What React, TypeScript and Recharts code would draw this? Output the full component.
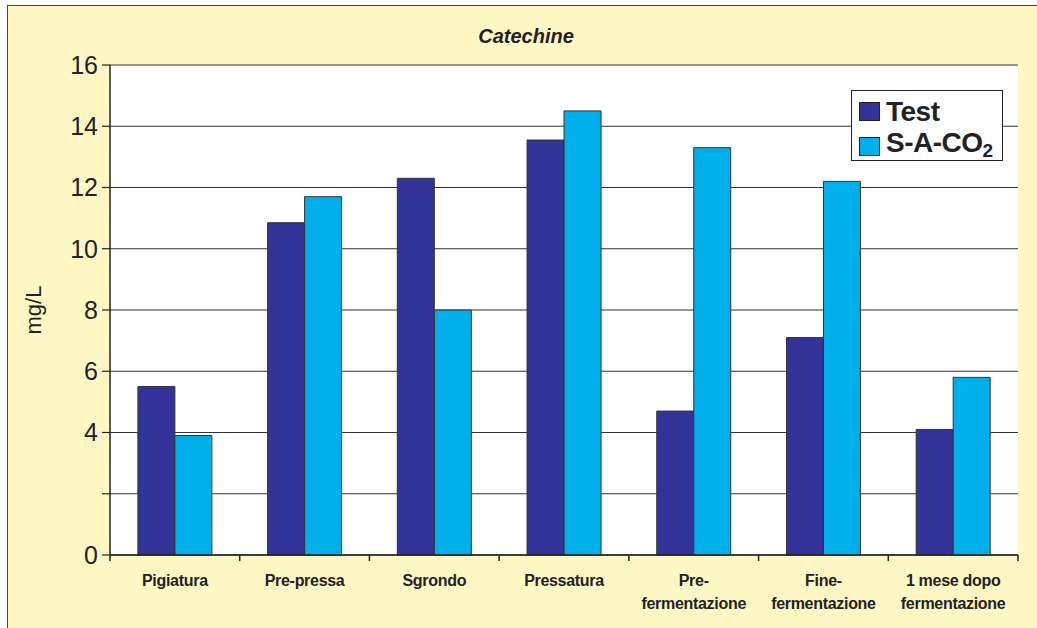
import { BarChart, Bar, XAxis, YAxis, CartesianGrid, Legend } from 'recharts';

const categories = [
  'Pigiatura',
  'Pre-pressa',
  'Sgrondo',
  'Pressatura',
  'Pre-\nfermentazione',
  'Fine-\nfermentazione',
  '1 mese dopo\nfermentazione',
];
const testValues = [5.5, 10.85, 12.3, 13.55, 4.7, 7.1, 4.1];
const co2Values = [3.9, 11.7, 8.0, 14.5, 13.3, 12.2, 5.8];
const seriesKeys = ['test', 'co2'];
const yTicks = [0, 2, 4, 6, 8, 10, 12, 14, 16];

const data = categories.map((name, i) => ({ name, test: testValues[i], co2: co2Values[i] }));

const FONT = '"Liberation Sans", Arial, Helvetica, sans-serif';
const CHART_W = 1030;
const CHART_H = 640;
const MARGIN = { top: 59, right: 20, left: 0, bottom: 31 };
const Y_AXIS_W = 102;
const BAND = (CHART_W - MARGIN.right - MARGIN.left - Y_AXIS_W) / categories.length;

const XTick = (props: any) => {
  const { x, y, payload, index } = props;
  const lines = String(payload.value).split('\n');
  return (
    <g>
      <line x1={x - BAND / 2} y1={y} x2={x - BAND / 2} y2={y + 6} stroke="#222" strokeWidth={1.5} />
      {index === categories.length - 1 && (
        <line x1={x + BAND / 2} y1={y} x2={x + BAND / 2} y2={y + 6} stroke="#222" strokeWidth={1.5} />
      )}
      {lines.map((l, i) => (
        <text
          key={i}
          x={x}
          y={y + 25 + i * 23}
          textAnchor="middle"
          dominantBaseline="central"
          fontFamily={FONT}
          fontWeight="bold"
          fontSize={16}
          letterSpacing={-0.3}
          fill="#222"
        >
          {l}
        </text>
      ))}
    </g>
  );
};

const LegendBox = (props: any) => {
  const items = [...(props.payload || [])].sort(
    (a: any, b: any) => seriesKeys.indexOf(a.dataKey) - seriesKeys.indexOf(b.dataKey)
  );
  return (
    <div
      style={{
        width: 152,
        height: 71,
        border: '1.5px solid #222',
        background: '#fff',
        boxSizing: 'border-box',
        padding: '4px 0 0 7px',
        fontFamily: FONT,
        fontWeight: 'bold',
        fontSize: 28,
        color: '#222',
        textAlign: 'left',
      }}
    >
      {items.map((p: any) => (
        <div key={p.dataKey} style={{ display: 'flex', alignItems: 'center', height: 33, marginBottom: 2 }}>
          <span
            style={{
              width: 19,
              height: 17,
              background: p.color,
              border: '1px solid #222',
              marginRight: 6,
              display: 'inline-block',
            }}
          />
          <span style={{ letterSpacing: -0.5, lineHeight: '30px' }}>
            {p.value === 'S-A-CO2' ? (
              <>
                S-A-CO<span style={{ fontSize: 19, verticalAlign: -5 }}>2</span>
              </>
            ) : (
              p.value
            )}
          </span>
        </div>
      ))}
    </div>
  );
};

export default function App() {
  return (
    <div
      style={{
        position: 'absolute',
        left: 7,
        top: 5,
        width: CHART_W,
        height: CHART_H,
        border: '1px solid #444',
        background: '#FFF8C4',
      }}
    >
      <div
        style={{
          position: 'absolute',
          left: 0,
          width: 1036,
          top: 18,
          textAlign: 'center',
          fontFamily: FONT,
          fontWeight: 'bold',
          fontStyle: 'italic',
          fontSize: 20,
          color: '#222',
          lineHeight: '24px',
        }}
      >
        Catechine
      </div>
      <BarChart
        width={CHART_W}
        height={CHART_H}
        data={data}
        margin={MARGIN}
        barGap={0}
        barCategoryGap="21.5%"
      >
        <CartesianGrid vertical={false} stroke="#333" strokeWidth={1.2} fill="#fff" />
        <XAxis
          dataKey="name"
          axisLine={{ stroke: '#222', strokeWidth: 1.5 }}
          tickLine={false}
          tickSize={0}
          tickMargin={0}
          height={60}
          interval={0}
          tick={<XTick />}
        />
        <YAxis
          width={Y_AXIS_W}
          domain={[0, 16]}
          ticks={yTicks}
          interval={0}
          tickFormatter={(v: number) => (v === 2 ? '' : String(v))}
          axisLine={{ stroke: '#222', strokeWidth: 1.5 }}
          tickLine={{ stroke: '#222', strokeWidth: 1.2 }}
          tickSize={8}
          tickMargin={4}
          tick={{ fontFamily: FONT, fontSize: 25, fill: '#222' }}
          label={() => (
            <text
              x={25.5}
              y={304}
              transform="rotate(-90 25.5 304)"
              textAnchor="middle"
              dominantBaseline="central"
              fontFamily={FONT}
              fontSize={22}
              fill="#222"
            >
              mg/L
            </text>
          )}
        />
        <YAxis
          yAxisId="right"
          orientation="right"
          width={0}
          domain={[0, 16]}
          tick={false}
          tickLine={false}
          axisLine={{ stroke: '#888', strokeWidth: 2 }}
        />
        <Legend
          layout="vertical"
          align="center"
          verticalAlign="middle"
          content={<LegendBox />}
          wrapperStyle={{ position: 'absolute', left: 843, top: 84, width: 152, height: 71 }}
        />
        <Bar dataKey="test" name="Test" fill="#333399" stroke="#333" strokeWidth={1} isAnimationActive={false} />
        <Bar dataKey="co2" name="S-A-CO2" fill="#00AEEA" stroke="#333" strokeWidth={1} isAnimationActive={false} />
      </BarChart>
    </div>
  );
}
